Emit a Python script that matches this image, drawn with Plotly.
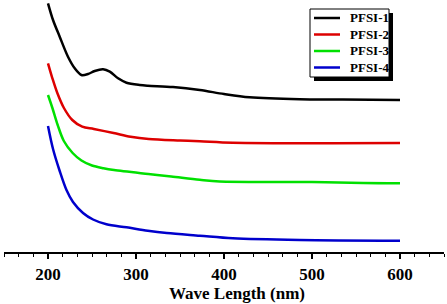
import plotly.graph_objects as go

# ---- data ----
series_names = ["PFSI-1", "PFSI-2", "PFSI-3", "PFSI-4"]

wl_1 = [200, 205.7, 213.3, 222.7, 230.4, 238, 245.5, 253.1, 262.6, 270.2, 279.6, 289.2, 304.3, 313.4,
        342, 372.5, 400, 429, 486, 535, 600]
abs_1 = [2.487, 2.32, 2.153, 1.953, 1.837, 1.77, 1.78, 1.81, 1.827, 1.803, 1.737, 1.693, 1.67, 1.663,
         1.65, 1.62, 1.58, 1.547, 1.527, 1.525, 1.52]

wl_2 = [200, 205, 210.7, 218.1, 227.6, 238.9, 252.1, 274.5, 293.9, 314.4, 350, 372.5, 410, 600]
abs_2 = [1.887, 1.737, 1.587, 1.44, 1.32, 1.253, 1.23, 1.19, 1.153, 1.13, 1.115, 1.108, 1.093, 1.09]

wl_3 = [200, 205, 211, 218, 228, 238, 250, 263, 275, 314, 340, 372.5, 395, 500, 558, 600]
abs_3 = [1.57, 1.44, 1.27, 1.11, 0.99, 0.915, 0.865, 0.838, 0.82, 0.78, 0.755, 0.722, 0.705, 0.70, 0.69, 0.688]

wl_4 = [200, 205.7, 213.3, 221, 228.4, 239.8, 251.2, 266.4, 289.2, 313.4, 335, 372.5, 410, 486, 600]
abs_4 = [1.26, 1.03, 0.81, 0.62, 0.50, 0.39, 0.325, 0.277, 0.247, 0.213, 0.19, 0.163, 0.137, 0.12, 0.113]

x_tick_vals = [200, 300, 400, 500, 600]
x_tick_text = ["200", "300", "400", "500", "600"]
x_title = "Wave Length (nm)"

colors = ["#000000", "#dd0000", "#00e000", "#0000cc"]

FONT = "Liberation Serif"

fig = go.Figure()
all_x = [wl_1, wl_2, wl_3, wl_4]
all_y = [abs_1, abs_2, abs_3, abs_4]
for name, xs, ys, c in zip(series_names, all_x, all_y, colors):
    fig.add_trace(go.Scatter(x=xs, y=ys, mode="lines", name=name, showlegend=False,
                             line=dict(color=c, width=2.5, shape="spline", smoothing=0.9)))

# ---- hand-drawn legend box (with drop shadow) in paper coordinates ----
W, H, L = 440.0, 252.0, 4.0   # plot area width/height and left margin in px


def px_x(p):
    return (p - L) / W


def px_y(p):
    return (H - p) / H


fig.add_shape(type="rect", xref="paper", yref="paper",
              x0=px_x(314), x1=px_x(393), y0=px_y(81), y1=px_y(13),
              fillcolor="black", line=dict(width=0), layer="above")
fig.add_shape(type="rect", xref="paper", yref="paper",
              x0=px_x(310), x1=px_x(389), y0=px_y(77), y1=px_y(9),
              fillcolor="white", line=dict(color="black", width=1), layer="above")
row_y = [18, 34.5, 51, 67.5]
for name, c, ry in zip(series_names, colors, row_y):
    fig.add_shape(type="line", xref="paper", yref="paper",
                  x0=px_x(314), x1=px_x(340), y0=px_y(ry), y1=px_y(ry),
                  line=dict(color=c, width=2.5), layer="above")
    fig.add_annotation(xref="paper", yref="paper", x=px_x(348), y=px_y(ry),
                       xanchor="left", yanchor="middle", text=name, showarrow=False,
                       font=dict(family=FONT, size=13, color="black", weight="bold"))

# x-axis title (placed slightly right of centre, as in the reference)
fig.add_annotation(xref="paper", yref="paper", x=px_x(237), y=px_y(293),
                   xanchor="center", yanchor="middle", text=x_title, showarrow=False,
                   font=dict(family=FONT, size=17, color="black", weight="bold"))

fig.update_layout(
    width=447, height=304,
    margin=dict(l=4, r=3, t=0, b=52),
    paper_bgcolor="white", plot_bgcolor="white",
    font=dict(family=FONT, color="black"),
    showlegend=False,
    xaxis=dict(range=[150, 650], showgrid=False, zeroline=False,
               showline=True, linecolor="black", linewidth=2,
               ticks="outside", ticklen=5, tickwidth=1.5, tickcolor="black",
               tickvals=x_tick_vals, ticktext=x_tick_text, ticklabelstandoff=1,
               tickfont=dict(family=FONT, size=17, color="black", weight="bold"),
               minor=dict(ticks="outside", ticklen=3, tickwidth=1.2, tickcolor="black",
                          dtick=100 / 6, tick0=0, showgrid=False),
               automargin=False),
    yaxis=dict(range=[0, 2.52], visible=False),
)

fig.write_html("out.html", config={"displayModeBar": False},
               post_script="document.body.style.margin='0';")
